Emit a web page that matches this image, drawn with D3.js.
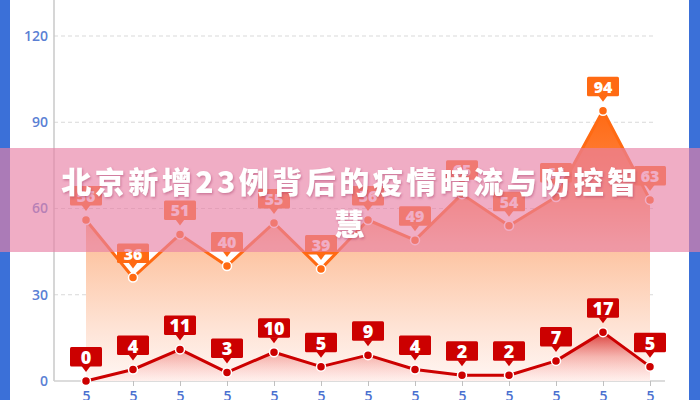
<!DOCTYPE html>
<html><head><meta charset="utf-8">
<script src="https://cdn.jsdelivr.net/npm/d3@7"></script>
<style>body{margin:0;background:#fff} svg{display:block}</style>
</head><body>
<svg id="c" width="700" height="400"></svg>
<script>
const categories = ["5月1日","5月2日","5月3日","5月4日","5月5日","5月6日","5月7日","5月8日","5月9日","5月10日","5月11日","5月12日","5月13日"];
const upperValues = [56,36,51,40,55,39,56,49,65,54,64,94,63];
const lowerValues = [0,4,11,3,10,5,9,4,2,2,7,17,5];
const yTicks = [0,30,60,90,120];
const titleLines = ["北京新增23例背后的疫情暗流与防控智","慧"];

const W = 700, H = 400;
const svg = d3.select("#c");
const defs = svg.append("defs");

const x = d3.scalePoint().domain(categories).range([86, 650]);
const y = d3.scaleLinear().domain([0, 120]).range([381, 36]);
const axisX = 54;

// side bars
svg.append("rect").attr("x",0).attr("y",0).attr("width",10).attr("height",H).attr("fill","#3b70d8");
svg.append("rect").attr("x",689).attr("y",0).attr("width",11).attr("height",H).attr("fill","#3b70d8");

// gradients
const og = defs.append("linearGradient").attr("id","og").attr("gradientUnits","userSpaceOnUse")
  .attr("x1",0).attr("x2",0).attr("y1",y(d3.max(upperValues))).attr("y2",y(0));
[[0,"#ff6a13",1],[0.22,"#ff7f3a",1],[0.5,"#fdc3a0",1],[0.8,"#fee3d5",1],[1,"#fff6f3",1]]
  .forEach(s=>og.append("stop").attr("offset",s[0]).attr("stop-color",s[1]).attr("stop-opacity",s[2]));
const rg = defs.append("linearGradient").attr("id","rg").attr("gradientUnits","userSpaceOnUse")
  .attr("x1",0).attr("x2",0).attr("y1",y(d3.max(lowerValues))).attr("y2",y(0));
[[0,"#cc0000",0.75],[0.5,"#e03030",0.3],[1,"#ff8080",0.05]]
  .forEach(s=>rg.append("stop").attr("offset",s[0]).attr("stop-color",s[1]).attr("stop-opacity",s[2]));
const sh = defs.append("filter").attr("id","sh").attr("x","-10%").attr("y","-30%").attr("width","120%").attr("height","160%");
sh.append("feDropShadow").attr("dx",1).attr("dy",1.5).attr("stdDeviation",1.2).attr("flood-color","#a03060").attr("flood-opacity",0.45);

// gridlines
svg.append("g").selectAll("line").data(yTicks.filter(d=>d>0)).join("line")
  .attr("x1",axisX).attr("x2",655).attr("y1",d=>y(d)).attr("y2",d=>y(d))
  .attr("stroke","#d9d9d9").attr("stroke-width",1).attr("stroke-dasharray","4,3");

// y axis
const ya = svg.append("g").attr("transform",`translate(${axisX},0)`)
  .call(d3.axisLeft(y).tickValues(yTicks).tickSize(0).tickPadding(6));
ya.select(".domain").remove();
ya.selectAll("text").attr("fill","#5b7fd4").attr("font-size",14).attr("font-weight",600)
  .attr("font-family","'Open Sans', 'Noto Sans', sans-serif");
svg.append("line").attr("x1",axisX).attr("x2",axisX).attr("y1",0).attr("y2",y(0))
  .attr("stroke","#c8c8c8").attr("stroke-width",1.5);

// x axis
const xa = svg.append("g").attr("transform",`translate(0,${y(0)})`)
  .call(d3.axisBottom(x).tickSize(5).tickSizeOuter(0).tickPadding(8));
xa.select(".domain").remove();
xa.insert("line",":first-child").attr("x1",axisX).attr("x2",665).attr("y1",0).attr("y2",0)
  .attr("stroke","#d0d0d0").attr("stroke-width",1.5);
xa.selectAll(".tick line").attr("stroke","#c0c0c0");
xa.selectAll(".tick text").each(function(d){
  const t = d3.select(this);
  t.text(null).attr("fill","#4a70d0").attr("font-size",14).attr("font-weight",600)
   .attr("font-family","'Open Sans', 'Noto Sans', 'Noto Sans CJK SC', sans-serif")
   .attr("dy",null).attr("y",8).attr("dominant-baseline","hanging");
  Array.from(d).forEach((ch,i)=>{
    t.append("tspan").attr("x",0).attr("dy", i===0 ? 0 : "1.1em").text(ch);
  });
});

// series
function drawSeries(values, color, gradId, labelColor, fs){
  const area = d3.area().x((d,i)=>x(categories[i])).y0(y(0)).y1(d=>y(d));
  const line = d3.line().x((d,i)=>x(categories[i])).y(d=>y(d));
  svg.append("path").datum(values).attr("d",area).attr("fill",`url(#${gradId})`);
  svg.append("path").datum(values).attr("d",line).attr("fill","none")
    .attr("stroke",color).attr("stroke-width",3).attr("stroke-linejoin","round");
  svg.append("g").selectAll("circle").data(values).join("circle")
    .attr("cx",(d,i)=>x(categories[i])).attr("cy",d=>y(d)).attr("r",4.5)
    .attr("fill",color).attr("stroke","#fff").attr("stroke-width",1.5);
  const lg = svg.append("g").selectAll("g").data(values).join("g")
    .attr("transform",(d,i)=>`translate(${x(categories[i])},${y(d)-24})`);
  lg.append("rect").attr("x",-16).attr("y",-10).attr("width",32).attr("height",19.5).attr("rx",1.5)
    .attr("fill",labelColor);
  lg.append("path").attr("d","M-4.5,9L4.5,9L0,15Z").attr("fill",labelColor);
  lg.append("text").attr("text-anchor","middle").attr("dominant-baseline","central").attr("y",0)
    .attr("fill","#fff").attr("font-size",fs).attr("font-weight",800)
    .attr("font-family","'Open Sans', 'Noto Sans', sans-serif").text(d=>d);
}
drawSeries(upperValues, "#ff6a13", "og", "#ff6a13", 16);
drawSeries(lowerValues, "#cc0000", "rg", "#cc0000", 18);

// banner
svg.append("rect").attr("x",0).attr("y",148).attr("width",W).attr("height",104)
  .attr("fill","rgb(232,129,166)").attr("fill-opacity",0.65);
svg.append("g").attr("filter","url(#sh)").selectAll("text").data(titleLines).join("text")
  .attr("x",351).attr("y",(d,i)=>180 + i*42).attr("text-anchor","middle").attr("dominant-baseline","central")
  .attr("fill","#fff").attr("font-size",30).attr("font-weight",900).attr("letter-spacing",3.5)
  .attr("font-family","'Noto Sans CJK SC', sans-serif").text(d=>d);
</script>
</body></html>
